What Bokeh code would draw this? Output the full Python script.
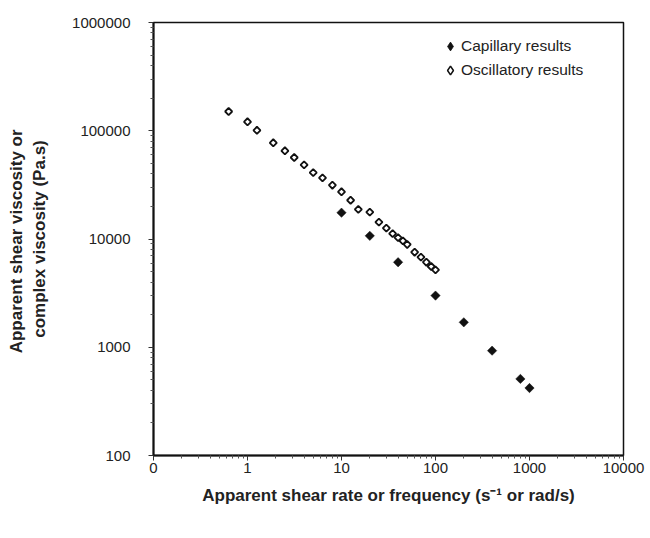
from bokeh.plotting import figure
from bokeh.models import FixedTicker, CustomJSTickFormatter, Legend, LegendItem
from bokeh.embed import file_html
from bokeh.resources import INLINE
import math

# ---- data ----
cap_x = [10, 20, 40, 100, 200, 400, 800, 1000]
cap_y = [17500, 10700, 6100, 3000, 1700, 930, 510, 420]

osc_x = [0.63, 1.0, 1.26, 1.88, 2.5, 3.14, 4.0, 5.0, 6.28, 8.0, 10, 12.5, 15.1,
         20, 25, 30, 35, 40, 45, 50, 60, 70, 80, 90, 100]
osc_y = [150600, 121000, 101000, 77400, 65300, 56600, 48400, 41100, 36700, 31400,
         27300, 22800, 18800, 17700, 14300, 12600, 11200, 10300, 9600, 8900,
         7550, 6800, 6100, 5570, 5190]

x_ticks = [0.1, 1, 10, 100, 1000, 10000]
y_ticks = [100, 1000, 10000, 100000, 1000000]

x_minor = [m * d for d in x_ticks[:-1] for m in range(2, 10)]
y_minor = [m * d for d in y_ticks[:-1] for m in range(2, 10)]

FONT = "Liberation Sans"

p = figure(width=650, height=538, x_axis_type="log", y_axis_type="log",
           x_range=(0.1, 10000), y_range=(100, 1000000),
           output_backend="svg", toolbar_location=None,
           min_border_left=153, min_border_right=27,
           min_border_top=22, min_border_bottom=83)

p.background_fill_color = "white"
p.border_fill_color = "white"
p.outline_line_color = "#111111"
p.outline_line_width = 1.5
p.xgrid.visible = False
p.ygrid.visible = False

fmt = CustomJSTickFormatter(code="return tick < 0.5 ? '0' : Math.round(tick).toString();")

for ax, ticks, minor in ((p.xaxis[0], x_ticks, x_minor), (p.yaxis[0], y_ticks, y_minor)):
    ax.ticker = FixedTicker(ticks=ticks, minor_ticks=minor)
    ax.formatter = fmt
    ax.axis_line_color = "#111111"
    ax.axis_line_width = 2
    ax.major_tick_line_color = "#333333"
    ax.major_tick_line_width = 1
    ax.major_tick_out = 5
    ax.major_tick_in = 0
    ax.minor_tick_line_color = "#555555"
    ax.minor_tick_line_width = 1
    ax.minor_tick_out = 3
    ax.minor_tick_in = 0
    ax.major_label_text_font = FONT
    ax.major_label_text_font_size = "15px"
    ax.major_label_text_color = "#222222"
    ax.axis_label_text_font = FONT
    ax.axis_label_text_font_style = "bold"
    ax.axis_label_text_font_size = "17px"
    ax.axis_label_text_color = "#222222"

p.xaxis.major_label_standoff = 2
p.xaxis.axis_label = "Apparent shear rate or frequency (s\u207b\u00b9 or rad/s)"
p.xaxis.axis_label_standoff = 10

p.yaxis.major_label_standoff = 18
p.yaxis.axis_label = "Apparent shear viscosity  or\ncomplex viscosity (Pa.s)"
p.yaxis.axis_label_standoff = 20

# legend proxies (diamond shape for the legend; tiny, hidden under the data markers)
l_cap = p.scatter(cap_x, cap_y, marker="diamond", size=1, fill_color="#111111",
                  line_color="#111111", line_width=0.8)
l_osc = p.scatter(osc_x, osc_y, marker="diamond", size=1, fill_color="white",
                  line_color="#111111", line_width=1.5)

r_cap = p.scatter(cap_x, cap_y, marker="square", angle=math.pi / 4, size=6.6,
                  fill_color="#111111", line_color="#111111", line_width=0.5)
r_osc = p.scatter(osc_x, osc_y, marker="square", angle=math.pi / 4, size=5.0,
                  fill_color="white", line_color="#111111", line_width=1.8)

legend = Legend(items=[LegendItem(label="Capillary results", renderers=[l_cap]),
                       LegendItem(label="Oscillatory results", renderers=[l_osc])],
                location=(286, 374))
legend.border_line_color = None
legend.background_fill_alpha = 0
legend.label_text_font = FONT
legend.label_text_font_size = "15.5px"
legend.label_text_color = "#222222"
legend.glyph_width = 22
legend.glyph_height = 22
legend.label_standoff = 0
legend.label_height = 20
legend.spacing = 2
legend.padding = 5
legend.margin = 0
p.add_layout(legend)

open("out.html", "w").write(file_html(p, INLINE))
